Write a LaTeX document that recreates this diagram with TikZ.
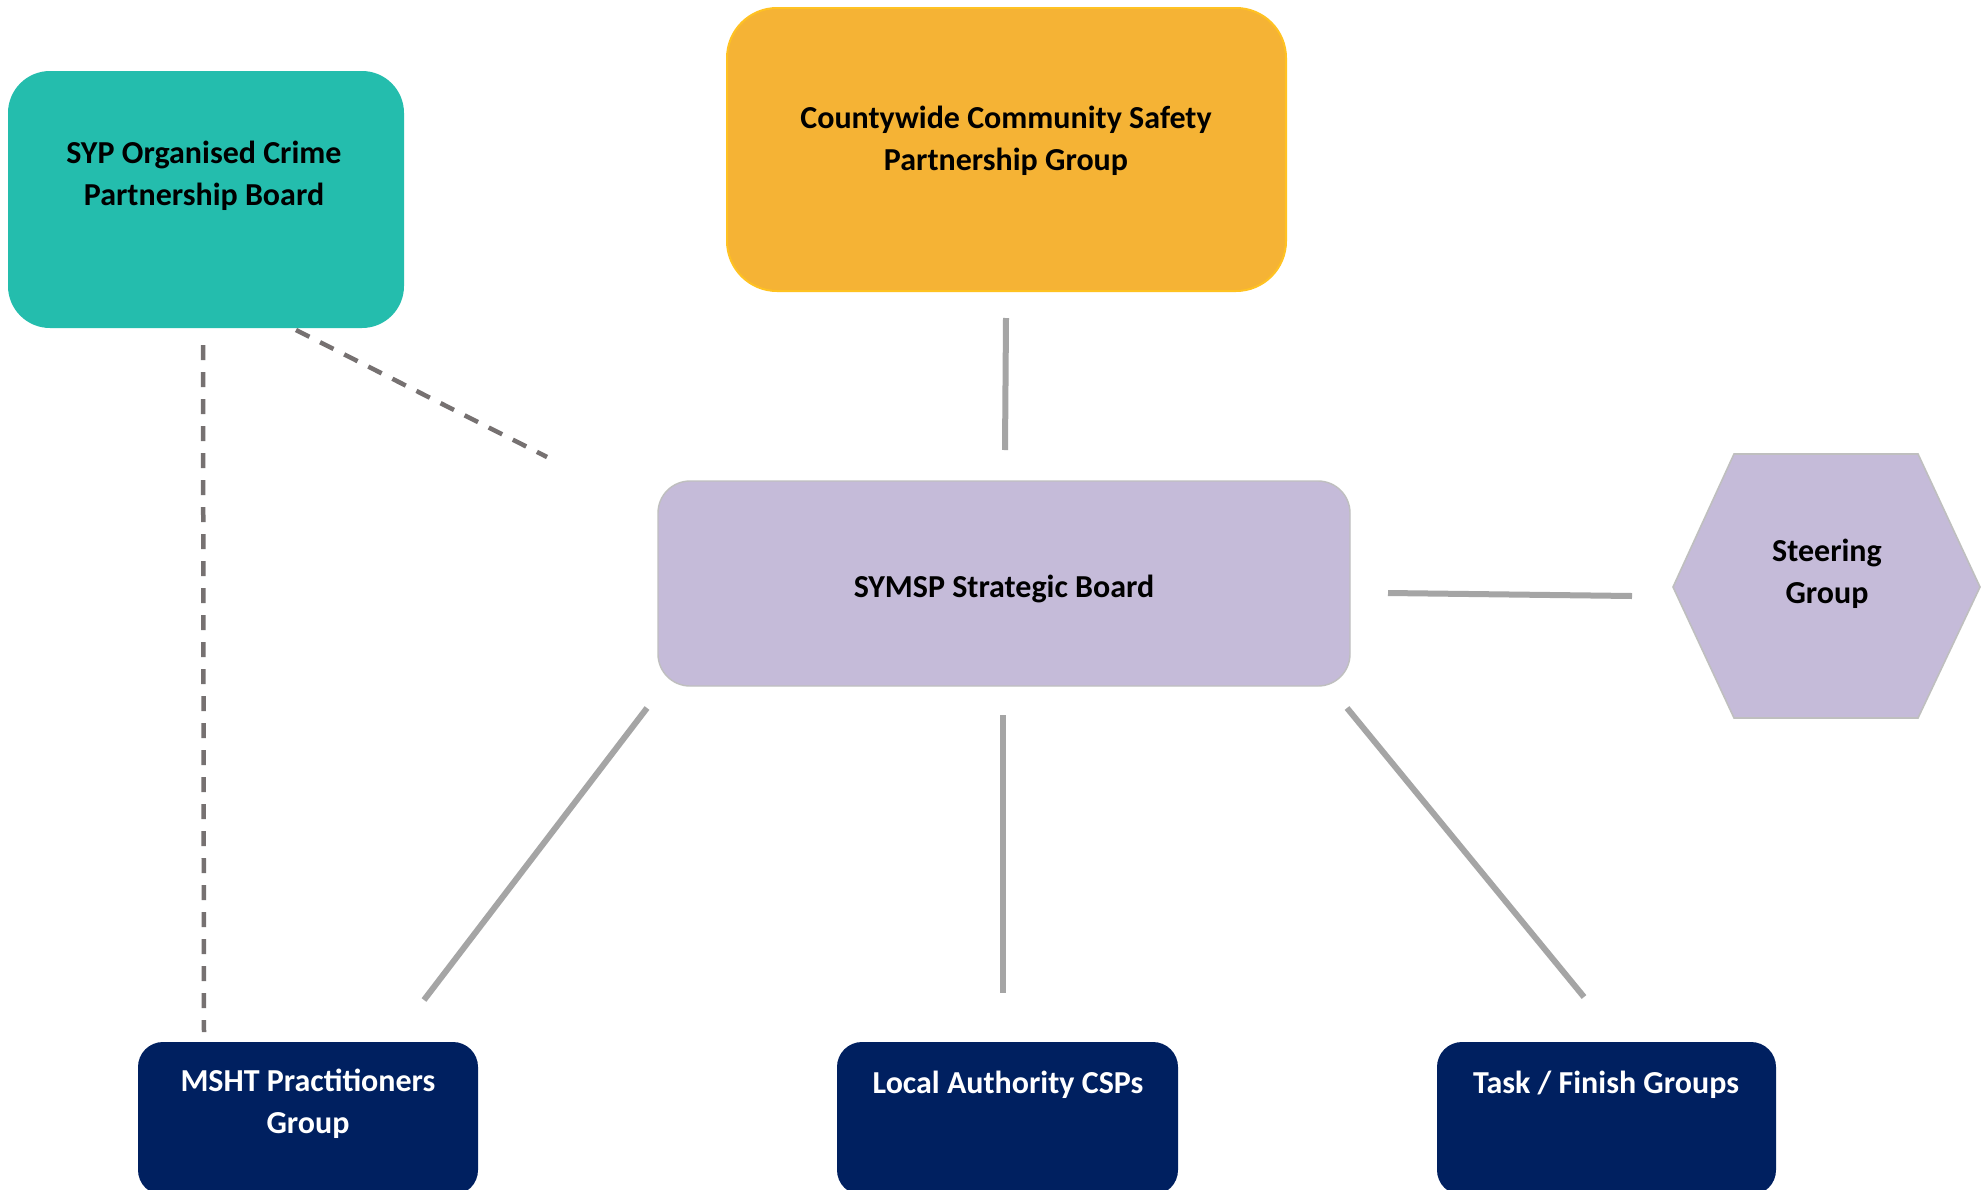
\documentclass[tikz,border=0pt]{standalone}
\usepackage{fontspec}
\setmainfont{Carlito}
\definecolor{tealfill}{HTML}{24BDAD}
\definecolor{orangefill}{HTML}{F5B335}
\definecolor{orangeline}{HTML}{FFC222}
\definecolor{purplefill}{HTML}{C5BBD9}
\definecolor{purpleline}{HTML}{BFBFBF}
\definecolor{navyfill}{HTML}{002060}
\definecolor{linkgray}{HTML}{A5A5A5}
\definecolor{dashgray}{HTML}{767171}
\tikzset{
  box/.style={rectangle, inner sep=0pt, outer sep=0pt},
  tealbox/.style={box, fill=tealfill, rounded corners=21pt},
  orangebox/.style={box, fill=orangefill, draw=orangeline, line width=1pt, rounded corners=25pt},
  purplebox/.style={box, fill=purplefill, draw=purpleline, line width=0.7pt, rounded corners=16pt},
  navybox/.style={box, fill=navyfill, rounded corners=12.5pt},
  hexshape/.style={fill=purplefill, draw=purpleline, line width=0.8pt, line join=miter},
  txt/.style={font=\bfseries\fontsize{16pt}{20.75pt}\selectfont, align=center, inner sep=0pt, anchor=base},
  darktxt/.style={txt, text=black},
  lighttxt/.style={txt, text=white},
  link/.style={draw=linkgray, line width=3pt, line cap=butt},
  dlink/.style={draw=dashgray, line width=2.25pt, dash pattern=on 7.5pt off 6pt},
}
\begin{document}
\begin{tikzpicture}[x=0.5pt, y=-0.5pt]
\useasboundingbox (0,0) rectangle (1986,1189);
\clip (0,0) rectangle (1986,1189);
\fill[white] (0,0) rectangle (1986,1189);

% boxes
\node[tealbox, minimum width=198pt, minimum height=128.5pt] (syp) at (206,199.5) {};
\node[orangebox, minimum width=279.5pt, minimum height=141.5pt] (county) at (1006.5,149.5) {};
\node[purplebox, minimum width=346pt, minimum height=102.5pt] (symsp) at (1004,583.5) {};
\draw[hexshape] (1673,587) -- (1734,454) -- (1918,454) -- (1980,587) -- (1918,718) -- (1734,718) -- cycle;
\node[navybox, minimum width=170pt, minimum height=76.5pt] (msht) at (308,1118.5) {};
\node[navybox, minimum width=170.5pt, minimum height=76.5pt] (local) at (1007.5,1118.5) {};
\node[navybox, minimum width=169.5pt, minimum height=76.5pt] (task) at (1606.5,1118.5) {};

% texts (base anchor = baseline of the last line)
\node[darktxt] (syptxt) at (204,205) {SYP Organised Crime\\Partnership Board};
\node[darktxt] (countytxt) at (1006,170) {Countywide Community Safety\\Partnership Group};
\node[darktxt] (symsptxt) at (1004,597) {SYMSP Strategic Board};
\node[darktxt] (steer) at (1827,603) {Steering\\Group};
\node[lighttxt] (mshttxt) at (308,1133) {MSHT Practitioners\\Group};
\node[lighttxt] (localtxt) at (1008,1093) {Local Authority CSPs};
\node[lighttxt] (tasktxt) at (1606,1093) {Task / Finish Groups};

% connector end points
\coordinate (c1a) at (1006,318);  \coordinate (c1b) at (1005,450);
\coordinate (c2a) at (1388,593);  \coordinate (c2b) at (1632,596);
\coordinate (c3a) at (647,708);   \coordinate (c3b) at (424,1000);
\coordinate (c4a) at (1003,715);  \coordinate (c4b) at (1003,993);
\coordinate (c5a) at (1347,708);  \coordinate (c5b) at (1584,997);
\coordinate (d1a) at (203,345);   \coordinate (d1b) at (204,1032);
\coordinate (d2a) at (296,330);   \coordinate (d2b) at (547,457);

\draw[link] (c1a) -- (c1b);
\draw[link] (c2a) -- (c2b);
\draw[link] (c3a) -- (c3b);
\draw[link] (c4a) -- (c4b);
\draw[link] (c5a) -- (c5b);
\draw[dlink] (d1a) -- (d1b);
\draw[dlink] (d2a) -- (d2b);
\end{tikzpicture}
\end{document}
